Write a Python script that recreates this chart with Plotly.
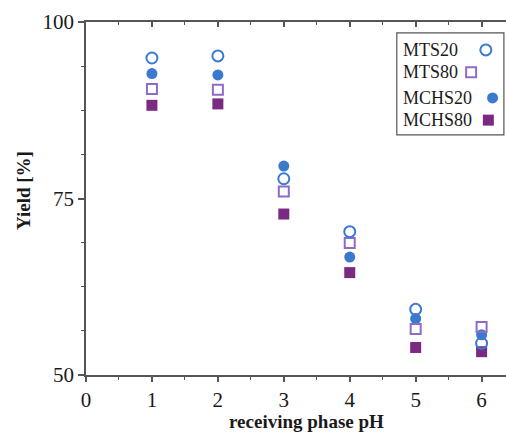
import plotly.graph_objects as go

# ---- data ----
ph = [1, 2, 3, 4, 5, 6]
mts20 = [94.9, 95.2, 77.8, 70.3, 59.3, 54.5]
mts80 = [90.5, 90.4, 76.0, 68.7, 56.5, 56.8]
mchs20 = [92.7, 92.5, 79.6, 66.7, 58.0, 55.7]
mchs80 = [88.2, 88.4, 72.8, 64.5, 53.9, 53.3]
series_names = ["MTS20", "MTS80", "MCHS20", "MCHS80"]
x_ticks = [0, 1, 2, 3, 4, 5, 6]
y_ticks = [50, 75, 100]

# ---- styles ----
FONT = "Liberation Serif"
BLUE = "#3a7ad4"
BLUE_FILL = "#3b79cc"
LAV = "#8e6cc6"
PURPLE = "#7a2a80"
AX = "#555555"
TXT = "#1a1a1a"

styles = {
    "MTS20": dict(symbol="circle-open", size=11, color=BLUE, line=dict(width=2, color=BLUE)),
    "MTS80": dict(symbol="square-open", size=10, color=LAV, line=dict(width=2, color=LAV)),
    "MCHS20": dict(symbol="circle", size=11, color=BLUE_FILL, line=dict(width=0)),
    "MCHS80": dict(symbol="square", size=11, color=PURPLE, line=dict(width=0)),
}
values = {"MTS20": mts20, "MTS80": mts80, "MCHS20": mchs20, "MCHS80": mchs80}

fig = go.Figure()
for name in ["MCHS80", "MCHS20", "MTS80", "MTS20"]:
    fig.add_trace(go.Scatter(x=ph, y=values[name], mode="markers", name=name,
                             marker=styles[name], showlegend=False))

# ---- manual legend (symbols to the right of text), paper-like overlay axes ----
leg_rows_y = [0.921, 0.858, 0.785, 0.722]
leg_sym_x = [0.952, 0.917, 0.968, 0.958]
for name, yy, xx in zip(series_names, leg_rows_y, leg_sym_x):
    fig.add_trace(go.Scatter(x=[xx], y=[yy], mode="markers", marker=styles[name],
                             xaxis="x2", yaxis="y2", showlegend=False, hoverinfo="skip"))
    fig.add_annotation(x=0.750, y=yy, xref="paper", yref="paper", text=name,
                       showarrow=False, xanchor="left", yanchor="middle",
                       font=dict(family=FONT, size=18, color=TXT))

fig.add_shape(type="rect", xref="paper", yref="paper", x0=0.740, x1=0.995, y0=0.680, y1=0.969,
              line=dict(color="#555555", width=1.2), fillcolor="rgba(0,0,0,0)", layer="below")

# ---- titles ----
fig.add_annotation(x=0.526, y=-0.133, xref="paper", yref="paper", text="<b>receiving phase pH</b>",
                   showarrow=False, xanchor="center", yanchor="middle",
                   font=dict(family=FONT, size=19, color=TXT))
fig.add_annotation(x=-0.15, y=0.521, xref="paper", yref="paper", text="<b>Yield [%]</b>",
                   showarrow=False, xanchor="center", yanchor="middle", textangle=-90,
                   font=dict(family=FONT, size=19, color=TXT))

fig.update_layout(
    width=506, height=434,
    margin=dict(l=86, r=0, t=22, b=59),
    paper_bgcolor="white", plot_bgcolor="white",
    showlegend=False,
    xaxis=dict(range=[0, 6.37], tickvals=x_ticks, ticktext=[str(v) for v in x_ticks],
               showgrid=False, zeroline=False, showline=True, linecolor=AX, linewidth=1.5,
               ticks="outside", ticklen=5, tickwidth=1.5, tickcolor=AX,
               minor=dict(dtick=0.5, ticks="outside", ticklen=3, tickwidth=1, tickcolor=AX),
               tickfont=dict(family=FONT, size=21, color=TXT)),
    xaxis3=dict(range=[0, 6.37], overlaying="x", side="top", matches="x",
                showgrid=False, zeroline=False, showline=True, linecolor=AX, linewidth=1.5,
                tickvals=x_ticks, showticklabels=False,
                ticks="inside", ticklen=5, tickwidth=1.5, tickcolor=AX,
                minor=dict(dtick=0.5, ticks="inside", ticklen=3, tickwidth=1, tickcolor=AX)),
    yaxis=dict(range=[50, 100], tickvals=y_ticks, ticktext=[str(v) for v in y_ticks],
               showgrid=False, zeroline=False, showline=True, linecolor=AX, linewidth=1.5,
               ticks="outside", ticklen=6, tickwidth=1.5, tickcolor=AX,
               minor=dict(dtick=6.25, ticks="outside", ticklen=3, tickwidth=1, tickcolor=AX),
               tickfont=dict(family=FONT, size=21, color=TXT)),
    xaxis2=dict(domain=[0, 1], range=[0, 1], overlaying="x", visible=False, fixedrange=True),
    yaxis2=dict(domain=[0, 1], range=[0, 1], overlaying="y", visible=False, fixedrange=True),
)
# dummy trace to activate top axis
fig.add_trace(go.Scatter(x=[None], y=[None], xaxis="x3", yaxis="y", showlegend=False))

fig.write_html("out.html")
